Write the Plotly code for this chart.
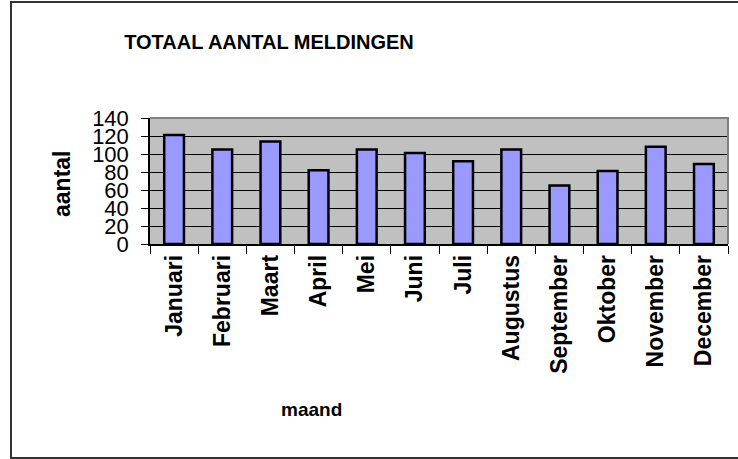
import plotly.graph_objects as go

months = [
    "Januari", "Februari", "Maart", "April", "Mei", "Juni",
    "Juli", "Augustus", "September", "Oktober", "November", "December",
]
counts = [121, 105, 114, 82, 105, 101, 92, 105, 65, 81, 108, 89]
y_ticks = [0, 20, 40, 60, 80, 100, 120, 140]

FONT = "Liberation Sans, Arial, sans-serif"
W, H = 738, 459
L, R, T, B = 150, 10, 118, 215


def px_x(px):
    # pixel -> paper x
    return (px - L) / (W - L - R)


def px_y(py):
    # pixel -> paper y
    return (H - B - py) / (H - T - B)


fig = go.Figure()
fig.add_trace(
    go.Bar(
        x=months,
        y=counts,
        marker=dict(color="#9999FF", line=dict(color="black", width=2.5)),
    )
)

fig.update_layout(
    width=W,
    height=H,
    margin=dict(l=L, r=R, t=T, b=B),
    paper_bgcolor="white",
    plot_bgcolor="#C0C0C0",
    bargap=0.59,
    showlegend=False,
    font=dict(family=FONT, color="black"),
    title=dict(
        text="<b>TOTAAL AANTAL MELDINGEN</b>",
        x=269 / W,
        xanchor="center",
        y=1 - 42 / H,
        yanchor="middle",
        xref="container",
        yref="container",
        font=dict(size=20, family=FONT, color="black"),
    ),
    xaxis=dict(
        tickangle=-90,
        tickfont=dict(size=23, family=FONT, weight="bold"),
        ticks="outside",
        tickson="boundaries",
        ticklen=8,
        tickcolor="black",
        showline=True,
        linecolor="black",
        linewidth=1.5,
        showgrid=False,
    ),
    yaxis=dict(
        range=[0, 140],
        tickvals=y_ticks,
        tickfont=dict(size=22, family=FONT),
        ticks="outside",
        ticklen=7,
        tickcolor="black",
        ticklabelstandoff=8,
        showline=True,
        linecolor="black",
        linewidth=1.5,
        showgrid=True,
        gridcolor="black",
        gridwidth=1,
        zeroline=False,
    ),
    annotations=[
        dict(
            text="<b>aantal</b>",
            x=px_x(62),
            y=px_y(184),
            xref="paper",
            yref="paper",
            xanchor="center",
            yanchor="middle",
            textangle=-90,
            showarrow=False,
            font=dict(size=23, family=FONT),
        ),
        dict(
            text="<b>maand</b>",
            x=px_x(311),
            y=px_y(410),
            xref="paper",
            yref="paper",
            xanchor="center",
            yanchor="middle",
            showarrow=False,
            font=dict(size=19, family=FONT),
        ),
    ],
    shapes=[
        # gray top/right edge of the plot area
        dict(
            type="path",
            path="M0,1 L1,1 L1,0",
            xref="paper",
            yref="paper",
            line=dict(color="#808080", width=2),
        ),
        # outer chart frame
        dict(
            type="rect",
            x0=px_x(11),
            x1=px_x(760),
            y0=px_y(458),
            y1=px_y(2),
            xref="paper",
            yref="paper",
            line=dict(color="#333333", width=2),
            layer="below",
        ),
    ],
)

fig.write_html(
    "out.html",
    config={"displayModeBar": False},
    post_script="document.body.style.margin = '0';",
)
